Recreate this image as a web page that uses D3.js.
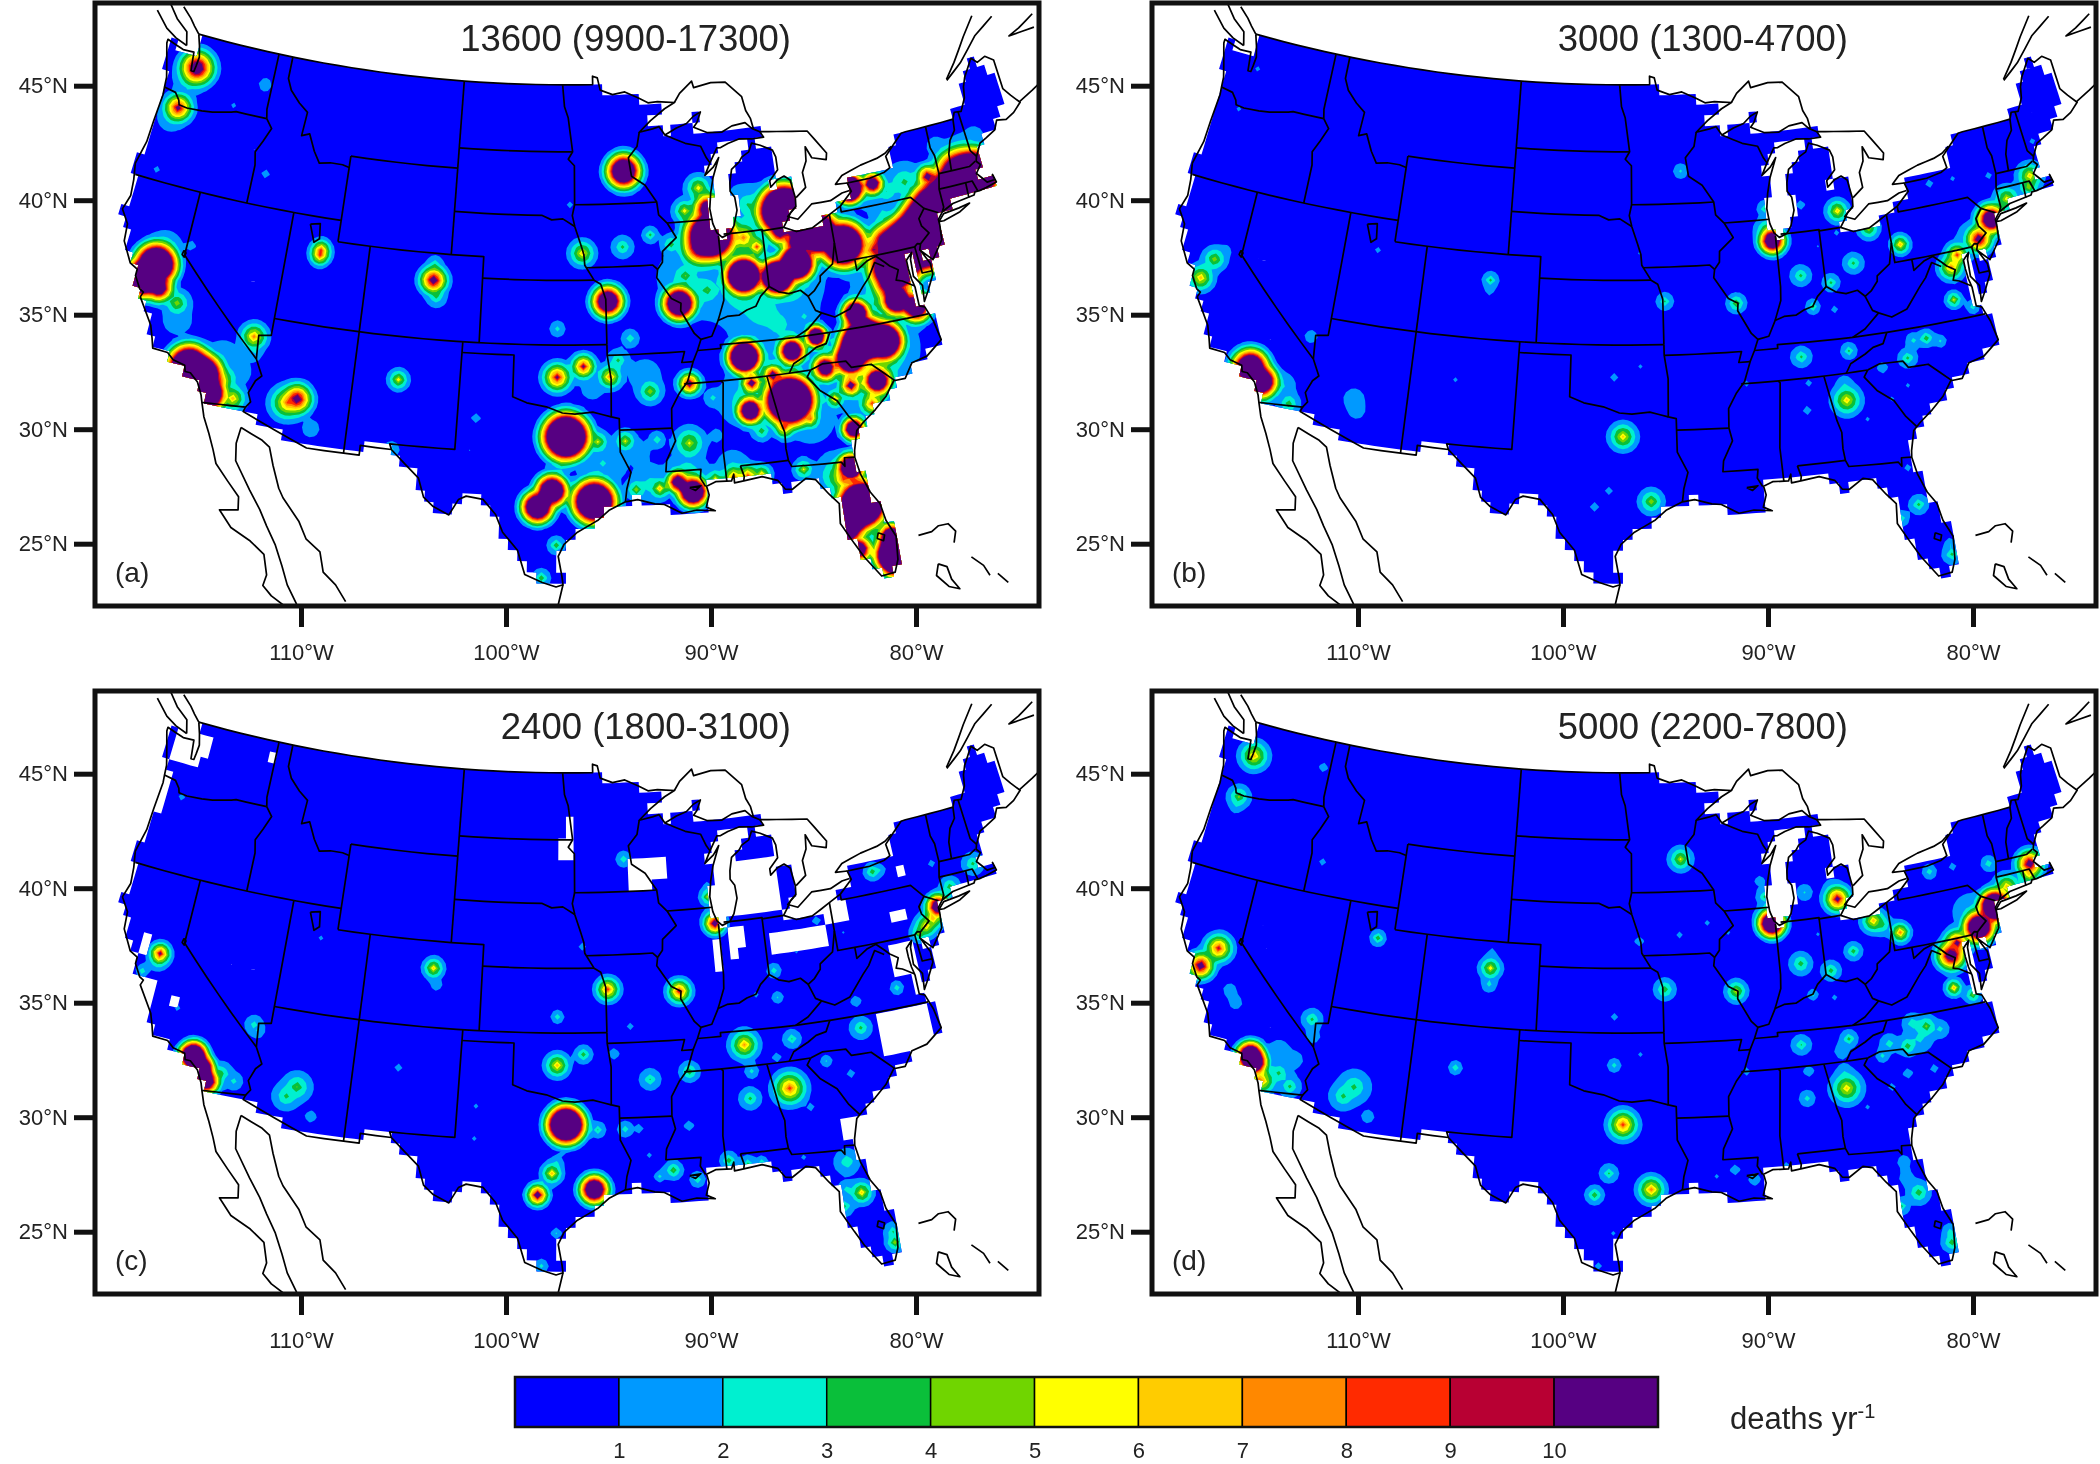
<!DOCTYPE html>
<html>
<head>
<meta charset="utf-8">
<script src="https://cdn.jsdelivr.net/npm/d3@7"></script>
<style>
  html, body { margin: 0; background: #fff; }
  svg { filter: blur(0.5px); }
  text { font-family: "Liberation Sans", Arial, sans-serif; fill: #222; }
</style>
</head>
<body>
<svg id="chart" width="2100" height="1464"></svg>
<script>
// colour levels of the field and legend
const levels = [1, 2, 3, 4, 5, 6, 7, 8, 9, 10];
const levelColors = ["#0000ff", "#0099ff", "#00f0d0", "#0abf3a", "#70d500", "#ffff00", "#ffcc00", "#ff8800", "#ff2a00", "#b80033", "#560082"];
const lonTicks = [-110, -100, -90, -80];
const latTicks = [45, 40, 35, 30, 25];
const panelTitles = ["13600 (9900-17300)", "3000 (1300-4700)", "2400 (1800-3100)", "5000 (2200-7800)"];
const panelLetters = ["(a)", "(b)", "(c)", "(d)"];

// hot spots: lon, lat, peak (deaths/yr), radius (deg)
const spotsA = [
  [-122.3,47.4,16,.36],[-122.5,47.0,4,.45],[-122.7,45.5,12,.3],[-122.9,44.9,2.5,.5],[-117.4,47.6,2,.25],[-119.2,46.2,1.4,.15],[-116.3,43.6,1.6,.22],[-122.9,42.4,1.5,.18],
  [-111.9,40.6,9,.2],[-111.95,40.2,9,.2],[-104.9,39.7,14,.28],[-104.8,38.9,3.5,.28],[-105,40.5,3,.22],
  [-121.5,38.2,40,.4],[-122,37.6,40,.36],[-121.1,37.3,20,.28],[-121.2,38.9,4,.5],[-119.8,39.5,1.8,.2],[-119.8,36.7,5,.33],[-119.5,36,1.8,.8],
  [-118.2,34,40,.42],[-117.5,33.8,40,.42],[-117.1,33,40,.36],[-116.3,33.7,6,.35],[-115.6,33,7,.3],[-116.5,34.8,1.9,.9],[-115.5,34.3,1.8,.7],
  [-115.1,36.1,8,.3],[-114.8,35.3,2,.3],[-112.1,33.4,14,.32],[-112.6,33.3,8,.4],[-111,32.3,1.9,.4],[-106.6,35.1,6,.22],[-106.4,31.85,2.5,.25],
  [-101.9,33.6,1.8,.2],[-102.2,32,1.1,.1],[-97.5,35.4,11,.3],[-95.95,36.1,11,.25],[-97,32.8,45,.45],[-97.75,30.3,30,.3],[-97.2,31.4,3,.3],[-98.5,29.45,30,.3],[-95.4,29.8,40,.42],[-97.5,27.8,4,.2],[-98.2,26.25,4,.2],
  [-94.6,39.1,25,.3],[-97.4,37.7,2.5,.25],[-96,41.2,6.5,.3],[-96.7,43.6,1.5,.17],[-93.3,45,28,.33],[-93,44.8,2,.6],[-93.6,41.6,3.5,.3],[-91.7,42,3.5,.2],[-90.6,41.5,4,.25],[-90.3,38.7,30,.32],[-93.3,37.2,3,.25],
  [-88.4,44.1,6,.3],[-88,43,20,.3],[-89.4,43.1,6,.25],[-88,41.8,40,.5],[-88.7,41.3,15,.4],[-86,41.5,8,.4],[-83.3,42.4,50,.5],[-85.6,43,3,.5],[-84.5,42.6,6,.4],
  [-81.6,41.2,40,.45],[-82.8,41,20,.3],[-80,40.4,40,.45],[-86.2,39.8,40,.36],[-84.3,39.6,40,.34],[-83,40.1,40,.34],[-85.2,41,9,.2],[-83.7,41.6,15,.25],
  [-89,42.8,1.9,.8],[-90,40,2.2,1.1],[-88.8,39.2,2.8,1],[-89.7,40,4.2,.3],[-88.5,39.2,4,.2],[-86.5,39,3,1.2],[-85.5,38,2.6,1.3],[-84.5,37.3,2.4,1],[-83.5,39,3,1.1],[-82.5,40.5,3,1],[-85,42.7,3,.8],[-84,43,2,.6],[-85.9,43.5,1.5,.6],
  [-79.5,40,4,.7],[-75.5,42.7,3.5,.6],[-76.8,42.6,3,.5],[-78,42.5,2.5,.5],[-77.2,41.4,2.5,.5],[-73,44,1.8,.5],[-71.5,43.3,5,.5],[-70.5,44,1.8,.5],
  [-78.9,42.9,40,.26],[-77.6,43.1,20,.2],[-73.9,42.8,14,.22],
  [-71.2,42.3,50,.5],[-71.9,42.4,30,.5],[-72.7,41.7,45,.5],[-73.8,41,60,.6],[-74.5,40.5,60,.6],[-75.3,40,60,.6],[-76,40,50,.5],[-76.7,39.9,30,.5],[-77.5,40.2,15,.4],[-78.2,40,10,.35],
  [-77.2,38.9,40,.5],[-76.7,39.3,40,.45],[-77.8,38.3,18,.35],[-77.5,37.5,30,.3],[-76.4,36.9,25,.3],[-78.5,37.5,3.5,1],[-77.5,38,5,.6],[-83,37.5,2.2,.6],
  [-86,35.8,2.5,1.2],[-80,34.5,4,1.2],[-79,35.5,5,1],[-87,34,3,.9],[-83.5,32.8,2,1.2],[-88,31,2.2,.7],[-90.5,30.7,3.5,.7],[-92.5,30.5,2.5,.7],[-82.5,30,4.5,.6],[-81.5,27.3,3,.9],[-93,32,1.5,.8],[-95,31.5,2.2,1],[-92.5,35.5,1.7,1],[-95.5,35,1.5,.9],
  [-86.8,36.1,40,.3],[-84,36,25,.26],[-85.3,35.05,15,.2],[-90,35.1,13,.22],[-86.6,34.7,14,.2],[-86.8,33.5,25,.25],[-84.4,33.75,50,.48],[-82.3,34.9,20,.26],[-80.85,35.2,35,.33],[-79.8,36.05,50,.42],[-78.7,35.8,40,.38],[-80.3,35.7,40,.36],[-79.9,37.2,30,.25],[-81,34,14,.22],[-79.5,34,25,.28],[-82,33.5,7,.2],[-80.1,32.9,9,.28],[-81.2,32.1,25,.2],[-82.4,36.5,28,.18],
  [-90.3,30.1,30,.28],[-91.1,30.4,20,.2],[-92,30.2,7,.2],[-93.2,30.2,5,.22],[-89,30.45,6,.2],[-88,30.6,9,.25],[-87.2,30.5,9,.25],[-86.5,30.5,7,.2],[-84.3,30.5,5.5,.22],[-90.2,32.3,5.5,.4],[-93.8,32.5,5.5,.25],[-95.3,32.4,5.5,.25],[-92.1,32.5,3,.22],[-92.3,34.7,5,.3],[-94.4,35.4,8,.25],[-94.1,36.2,3.5,.3],
  [-86.3,32.4,4,.25],[-85,32.5,9,.2],[-83.6,32.8,8,.18],[-88.7,34.2,2.5,.3],[-88.7,32.4,2,.25],
  [-81.7,30.3,30,.25],[-82.3,29.7,8,.3],[-81.5,28.5,50,.45],[-82.3,28,40,.38],[-82.5,27.4,30,.3],[-80.25,26.1,45,.36],[-80.3,25.8,40,.3],[-80.2,26.7,30,.25],[-82,26.6,20,.25]
];
const spotsB = [
  [-118.1,34,30,.36],[-117.3,33.6,28,.32],[-117,33,5,.3],[-116.2,33.4,2.2,.45],[-115.6,32.85,4,.28],[-116,33.6,1.9,.6],
  [-122,37.5,7,.3],[-121.4,38.4,5,.3],[-120.9,38.9,1.7,.3],[-115.1,36.1,1.8,.3],[-112.1,33.4,1.9,.5],[-111.7,33.1,1.8,.4],[-122.6,45.5,1.4,.13],[-122.1,47.6,1.4,.15],[-111.9,40.6,1.4,.2],
  [-104.9,39.7,3.5,.2],[-104.95,39.2,1.7,.2],[-106.6,35.1,1.4,.12],[-94.6,39.1,3.3,.22],[-90.3,38.7,4.5,.22],[-96,41.2,1.2,.1],[-93.3,45,2.3,.25],[-95.95,36.1,1.4,.1],[-97.5,35.4,1.7,.18],[-97,32.8,6.5,.32],[-97.75,30.3,1.6,.2],[-98.5,29.45,1.7,.22],[-95.4,29.8,5,.3],
  [-87.8,41.6,22,.25],[-88,41.9,5,.3],[-88,43,3.3,.2],[-85.7,42.9,1.6,.25],[-83.4,42.4,6.5,.25],[-81.8,41.4,5.5,.25],[-80,40.5,7,.2],[-83.8,41.6,1.5,.12],[-85.1,41.1,1.2,.08],[-83,40,3.5,.28],[-86.2,39.8,3.5,.28],[-84.5,39.2,3.5,.22],[-85.7,38.2,3.6,.16],[-84.5,38,1.8,.12],
  [-86.8,36.1,3.4,.28],[-84,36,3.4,.2],[-90,35.1,1.5,.14],[-86.6,34.7,1.7,.12],[-86.8,33.5,1.8,.18],[-84.4,33.8,6.5,.35],[-84.6,34.4,2,.35],[-80.85,35.2,3.5,.25],[-79.5,36.1,4,.2],[-78.7,35.8,2.3,.2],[-80.2,36.1,2.5,.25],[-82.3,34.9,2,.2],[-81,34,1.4,.1],[-82,33.5,1.4,.12],[-83.6,32.8,1.4,.1],
  [-77.5,37.5,5.5,.17],[-76.4,36.9,2.8,.18],[-77.2,38.9,8,.28],[-76.7,39.4,9,.25],[-75.2,39.9,14,.27],[-74.2,40.7,22,.28],[-73,41.6,6,.3],[-71.2,42.3,6.5,.3],[-71.5,41.8,5,.25],[-73.8,42.7,1.5,.2],[-76.1,43,1.4,.14],[-77.6,43.1,1.8,.15],[-70.4,43.7,1.4,.2],[-75.8,40.2,2,.6],
  [-82.4,27.9,3,.2],[-81.4,28.5,3.5,.25],[-81.7,30.2,1.5,.2],[-80.3,26,3.5,.25],[-80.2,26.6,2,.2]
];
const spotsC = [
  [-121.3,38.3,11,.2],[-121.2,38,5,.25],[-121.9,37.2,3,.15],[-119.6,35.9,1.4,.2],[-122.5,45.4,1.6,.15],[-115.1,36.1,2.6,.3],[-114.8,35.7,2,.3],
  [-118.1,34,35,.25],[-117.6,33.6,35,.25],[-117.1,33,22,.25],[-116.2,33.6,3.5,.3],[-115.5,33.3,2.5,.3],[-112.1,33.4,4.2,.4],[-112.4,33,3.5,.4],[-111,32.3,1.6,.35],[-111.9,40.5,1.4,.13],
  [-104.9,39.7,6.5,.22],[-104.8,39,2,.22],[-106.6,35.1,1.7,.17],[-96,41.1,1.6,.18],[-93.3,44.9,3,.2],[-94.6,39.1,9,.25],[-90.3,38.7,10,.25],[-97.4,37.7,2.8,.17],[-95.9,36.1,3.8,.22],[-97.5,35.4,7,.27],[-94.3,36,1.8,.25],[-93.3,37.2,1.5,.2],[-92.3,34.7,3.2,.3],[-90,35.1,4,.25],
  [-86.8,36.1,7.5,.33],[-84,36,3.2,.25],[-85,35.2,1.8,.2],[-86.6,34.7,2.5,.22],[-86.8,33.5,3.5,.3],[-84.4,33.8,9,.38],[-83.6,32.8,1.6,.2],[-81,34,1.7,.2],[-82.3,34.8,2.2,.2],[-80,36.1,3.5,.3],[-80,37.2,1.8,.25],[-77.5,37.5,2.8,.18],[-84.5,38.1,2.2,.2],[-85.7,38.2,1.5,.13],[-84.4,39.2,2.8,.2],[-83,39.9,1.4,.1],
  [-87.7,41.7,14,.2],[-88,42,3,.25],[-87.9,43,5.5,.17],[-88.1,43.6,1.5,.25],[-81.6,41.2,1.7,.2],[-80,40.5,1.2,.12],[-77.6,43.1,4,.2],[-76.9,43,2,.2],[-73.8,42.7,1.5,.22],[-74.1,40.8,20,.22],[-74.5,40.3,7,.25],[-74.9,40,7,.25],[-75.4,39.8,5,.2],[-73,41.6,4,.25],[-71.3,42.3,3.5,.3],
  [-97,32.8,40,.36],[-95.3,32.4,3.2,.2],[-93.8,32.5,2.8,.22],[-92.9,32.5,2,.15],[-90.2,32.4,1.6,.3],[-97.75,30.4,7,.22],[-97.5,31,2.2,.25],[-98.5,29.45,14,.2],[-95.4,29.85,25,.27],[-97.4,27.8,2.2,.17],[-98.2,26.3,2.5,.2],[-102,32,1.4,.12],[-101.9,33.6,1.4,.13],
  [-91.2,30.4,4.2,.22],[-92.5,31.2,1.4,.15],[-92,30.2,2.5,.15],[-90.1,30.1,3,.2],[-88.2,30.7,4,.2],[-87.3,30.5,3.5,.2],[-86.5,30.5,3,.15],[-84.3,30.5,1.4,.15],[-81.4,28.5,6.5,.25],[-81.9,30.1,3,.4],[-82.4,27.9,3.5,.25],[-82.2,28.8,2.5,.3],[-80.3,26,5,.2],[-80.2,26.6,3.2,.25]
];
const spotsD = [
  [-122.2,47.5,7,.33],[-122.6,45.5,4.5,.28],[-122.6,45,1.8,.25],[-117.4,47.7,1.8,.18],[-116.3,43.6,1.6,.17],[-111.9,40.6,4,.17],[-121.3,38.4,10,.3],[-122,37.6,14,.27],[-120,36.8,1.7,.35],[-119.5,36.3,1.6,.4],
  [-118.1,34.1,30,.25],[-117.7,33.8,28,.25],[-117.2,33.1,8,.3],[-116.9,33,6.5,.3],[-116.2,33.6,3.5,.35],[-115.5,33,3.5,.3],[-116.5,34.6,1.8,.6],[-115.5,34.2,1.6,.5],[-115.1,36.2,3.5,.28],[-114.8,35.6,1.9,.3],[-112.1,33.4,3.5,.5],[-112.4,33,3.5,.4],[-111,32.3,1.7,.35],
  [-104.9,39.7,6,.25],[-104.9,39,2.5,.25],[-105,40.5,1.6,.2],[-106.6,35.1,3,.17],[-96,41.2,1.8,.2],[-93.3,45,5.5,.27],[-93.6,41.6,1.5,.17],[-91.7,42,1.4,.17],[-90.6,41.5,1.4,.12],[-94.6,39.1,4,.27],[-90.3,38.7,5.5,.25],[-97.4,37.7,1.7,.15],[-95.95,36.1,1.4,.12],[-97.5,35.4,2.6,.2],[-97,32.8,9,.33],[-97.75,30.4,3.3,.25],[-98.5,29.45,4,.22],[-95.4,29.85,8,.3],[-97.4,27.8,1.4,.1],[-98.2,26.3,1.5,.2],
  [-87.8,41.7,28,.25],[-88,41.9,5,.3],[-88,43,3.6,.22],[-88.3,43.8,1.6,.3],[-85.6,42.9,2.2,.3],[-83.4,42.4,12,.27],[-83.8,43,2,.4],[-81.6,41.3,7,.27],[-80.9,41,3.5,.3],[-80,40.5,8,.2],[-83,40,3.8,.22],[-86.2,39.8,3.8,.3],[-85.1,41.1,1.3,.12],[-84.5,39.2,3.8,.25],[-85.7,38.2,2.5,.15],[-84.5,38,1.6,.1],
  [-86.8,36.1,3.2,.28],[-84,36,3.6,.22],[-84.6,35.6,2,.3],[-80.85,35.2,4,.25],[-81.8,35.6,2.8,.3],[-79.5,36.1,4.5,.27],[-80.3,36.2,3,.3],[-78.7,35.8,2.5,.3],[-80,35.5,2.5,.5],[-90,35.1,1.8,.15],[-86.6,34.7,2,.2],[-86.8,33.5,2.6,.25],[-84.4,33.8,6.5,.38],[-84.6,34.4,2,.35],[-83.6,32.8,1.4,.12],[-82,33.5,1.6,.18],[-81,34,1.9,.2],[-82.3,34.9,2.5,.2],[-79.5,34,1.7,.2],
  [-77.5,37.5,7,.17],[-76.5,36.9,4.5,.2],[-77.2,38.9,16,.3],[-76.7,39.4,12,.28],[-75.2,39.9,28,.3],[-74.1,40.8,35,.3],[-73,41.6,7,.3],[-71.2,42.3,14,.27],[-71.5,41.8,6,.25],[-73.8,42.7,3,.2],[-76.1,43,1.6,.2],[-77.6,43.1,2.8,.2],[-75.5,40.7,2.5,.7],
  [-81.9,30.1,1.7,.35],[-81.4,28.5,4,.3],[-81.9,29.2,1.7,.4],[-82.4,27.9,3.5,.2],[-80.3,26,4,.25],[-80.2,26.6,2.5,.25],[-91.1,30.4,1.6,.3],[-90.1,30.1,1.9,.25],[-92,30.2,1.4,.1],[-88.2,30.6,1.7,.15]
];
// no-data patches (white cells): lon0, lat0, lon1, lat1
const gapsA = [], gapsB = [], gapsD = [];
const gapsC = [
  [-124,47.2,-122.2,47.8],[-122.4,47.7,-121.5,48.6],[-117.3,47.9,-116.8,48.5],[-124.6,44.5,-123.7,46.5],[-124.6,42.8,-123.9,44.5],
  [-122.6,38.1,-121.9,39],[-122.3,36.2,-121.1,37],[-120.2,36.1,-119.6,36.6],[-97,46.2,-96.4,47],[-97.5,45,-96.3,46],[-93.2,44.2,-90.6,44.9],[-92.8,43.7,-91.5,44.2],
  [-86.6,42.7,-83.4,44.3],[-86.6,41.9,-83.6,42.5],[-87.8,39.4,-87.3,40.9],[-87.2,40.7,-85.8,41.5],[-87.2,40.2,-86.7,40.7],[-84.5,39.9,-80.8,40.9],[-80.9,41,-79.3,42],
  [-77,40.5,-75.9,41.2],[-76,42.5,-75.3,43.1],[-77.4,38,-75.8,39.4],[-78.8,34.6,-76.2,36.3],[-81.9,31.2,-81,31.9]
];
const spots = [spotsA, spotsB, spotsC, spotsD];
const gaps = [gapsA, gapsB, gapsC, gapsD];

// outline of the lower 48, lon/lat
const usRing = [
  [-122.76,49],[-95.15,49],[-95.15,49.38],[-94.82,49.3],[-94.64,48.74],[-93.8,48.52],[-92.95,48.62],[-92,48.3],[-91.4,48.07],[-90.75,48.1],[-89.6,48],
  [-90.3,47.75],[-91.3,47.25],[-92.1,46.75],[-91.2,46.87],[-90.75,46.95],[-90.4,46.55],[-89.6,46.83],[-88.9,47],[-88.4,47.3],[-87.9,47.47],[-88.2,47],[-88.45,46.8],[-87.6,46.5],[-86.6,46.45],[-85.9,46.68],[-85,46.75],[-84.6,46.45],[-84.1,46.25],[-83.9,45.98],[-84.7,45.97],
  [-85.5,46.05],[-86.3,45.9],[-86.8,45.75],[-87.05,45.75],[-87.6,45.1],[-88,44.55],[-87.4,44.9],[-87,45.3],[-87.5,44.4],[-87.75,43.7],[-87.9,43],[-87.8,42.3],[-87.6,41.85],[-87.3,41.62],[-86.8,41.76],[-86.5,42.1],[-86.2,42.8],[-86.25,43.4],[-86.5,43.7],[-86.45,44.1],[-86.25,44.7],[-85.7,45],[-85.5,45.2],[-85,45.4],[-84.75,45.78],
  [-84.2,45.63],[-83.45,45.33],[-83.3,45],[-83.3,44.4],[-83.9,43.95],[-83.9,43.65],[-83.4,43.95],[-82.95,44.07],[-82.6,43.85],[-82.45,43],[-82.5,42.6],[-82.9,42.35],[-83.15,42.05],[-83.45,41.73],
  [-82.7,41.45],[-81.7,41.5],[-80.5,41.98],[-79.75,42.27],[-78.9,42.85],[-79.05,43.26],[-77.6,43.27],[-76.6,43.4],[-76.2,43.55],[-76.3,44.1],[-75.8,44.45],[-75,44.98],[-74.7,45],[-71.5,45.01],[-71.3,45.3],[-70.85,45.25],[-70.4,45.8],[-70.25,46.3],[-70,46.7],[-69.23,47.46],[-68.9,47.2],[-68.3,47.36],[-67.8,47.07],[-67.8,45.7],[-67.45,45.3],[-67,44.85],
  [-67.6,44.5],[-68.2,44.3],[-68.8,44.4],[-69.1,44],[-69.8,43.75],[-70.25,43.6],[-70.7,43.05],[-70.8,42.85],[-70.6,42.65],[-71,42.3],[-70.65,41.95],[-70.5,41.78],[-70,41.8],[-70.05,42.05],[-69.95,41.67],[-70.65,41.55],[-71.1,41.5],[-71.4,41.5],[-71.5,41.37],[-72.9,41.25],[-73.65,41],[-74,40.7],[-74,40.45],[-74.1,39.75],[-74.9,38.95],[-75.5,39.5],[-75.1,38.8],[-75.1,38.3],[-75.6,37.6],[-75.95,37.15],
  [-75.85,37.9],[-76.25,38.4],[-76.2,39.2],[-76.05,39.5],[-76.45,39.2],[-76.45,38.8],[-76.4,38.3],[-76.3,37.9],[-76.3,37],[-76,36.9],[-75.7,36.2],[-75.5,35.25],[-76.5,34.65],[-77.4,34.5],[-77.95,33.85],[-78.6,33.85],[-79.2,33.2],[-79.9,32.7],[-80.7,32.2],[-81.1,31.9],[-81.4,31],[-81.45,30.7],[-81.3,29.9],[-80.95,29],[-80.55,28.4],[-80.4,27.6],[-80.03,26.8],[-80.15,25.75],[-80.4,25.2],[-81.1,25.13],[-81.8,26.1],[-82.2,26.8],[-82.75,27.8],[-82.65,28.7],[-83.1,29.2],[-83.7,29.95],[-84.2,30.07],[-85,29.65],[-85.35,29.7],[-85.7,30.15],[-86.5,30.4],[-87.5,30.3],[-88,30.25],[-88,30.65],[-88.15,30.35],[-89,30.38],[-89.5,30.2],[-89.4,29.8],[-89.6,29.25],[-89.15,29.05],[-90.1,29.15],[-90.9,29.05],[-91.8,29.5],[-92.3,29.55],[-93.2,29.78],[-93.85,29.7],[-94.7,29.35],[-95.3,28.9],[-96.4,28.35],[-97.1,27.8],[-97.4,27.25],[-97.2,26.3],[-97.15,25.95],
  [-97.5,25.85],[-98.2,26.05],[-99.1,26.4],[-99.5,27.5],[-100.3,28.3],[-100.7,29.1],[-101.4,29.77],[-102.3,29.88],[-102.7,29.7],[-103.15,28.97],[-104,29.3],[-104.55,29.7],[-104.9,30.55],[-106.5,31.75],[-108.2,31.78],[-108.2,31.33],[-111.07,31.33],[-114.8,32.5],[-114.72,32.72],[-117.12,32.53],
  [-117.25,32.85],[-117.6,33.4],[-118.1,33.75],[-118.4,33.75],[-118.5,34.03],[-119.2,34.15],[-119.6,34.42],[-120.47,34.45],[-120.65,34.9],[-120.9,35.45],[-121.9,36.6],[-121.8,36.85],[-122.05,36.95],[-122.5,37.5],[-122.5,37.8],[-123,38],[-123.7,38.9],[-123.8,39.7],[-124.35,40.3],[-124.1,41],[-124.2,41.75],[-124.4,42.5],[-124.1,43.6],[-124.05,44.6],[-123.95,45.9],[-124,46.25],[-124.05,46.7],[-124.3,47.3],[-124.7,48.2],[-124.7,48.38],[-123.5,48.13],[-122.75,48.15],[-122.6,47.3],[-122.4,47.3],[-122.35,47.6],[-122.3,48],[-122.5,48.5],[-122.76,49]
];
// part of north-east Maine the model grid leaves empty
const maskCut = [[-69.2,47.8],[-68.7,46.8],[-68,46],[-67.8,45.2],[-68.5,44.5],[-66,44],[-66,48]];

const stateLines = [
  [[-124,46.25],[-123.2,46.15],[-122.85,45.85],[-122.75,45.65],[-122.2,45.6],[-121.2,45.65],[-120.5,45.72],[-119.3,45.93],[-119,46],[-116.92,46]],
  [[-117.03,49],[-117.04,46.42],[-116.92,46]],
  [[-116.92,46],[-116.47,45.6],[-116.85,44.95],[-117.2,44.4],[-117.03,43.8],[-117.03,42]],
  [[-116.05,49],[-116.05,48],[-115.7,47.5],[-115,47],[-114.35,46.65],[-114.45,45.55],[-113.95,45.7],[-113.45,44.95],[-113,44.45],[-112.3,44.55],[-111.5,44.55],[-111.05,44.47]],
  [[-111.05,45],[-104.05,45]],[[-111.05,45],[-111.05,41]],
  [[-104.05,49],[-104.05,41]],
  [[-124.2,42],[-111.05,42]],
  [[-120,42],[-120,39],[-114.63,35],[-114.15,34.27],[-114.45,34],[-114.72,33.4],[-114.5,33],[-114.72,32.72]],
  [[-114.04,42],[-114.04,36.2],[-114.75,36.1],[-114.63,35]],
  [[-114.04,37],[-94.62,37]],
  [[-109.05,41],[-109.05,31.33]],
  [[-111.05,41],[-102.05,41],[-102.05,37]],
  [[-104.05,43],[-98.5,43],[-97.9,42.8],[-97.2,42.85],[-96.45,42.5]],
  [[-102.05,40],[-95.3,40]],
  [[-103,37],[-103.06,32],[-106.62,32],[-106.5,31.75]],
  [[-103,36.5],[-100,36.5],[-100,34.56],[-99.2,34.3],[-98.1,34.13],[-97.2,33.85],[-96.5,33.8],[-95.5,33.88],[-94.48,33.64]],
  [[-94.62,37],[-94.62,36.5],[-94.43,35.4],[-94.48,33.64],[-94.04,33.55],[-94.04,32],[-93.5,31.05],[-93.75,30.3],[-93.85,29.7]],
  [[-94.04,33.02],[-91.15,33]],
  [[-104.05,45.94],[-96.56,45.94]],
  [[-97.23,49],[-97.1,48],[-96.85,47.5],[-96.56,45.94],[-96.85,45.6],[-96.45,45.3],[-96.45,43.5],[-91.22,43.5]],
  [[-96.45,43.5],[-96.6,43],[-96.45,42.5],[-96.1,41.7],[-95.9,41.2],[-95.85,40.7],[-95.3,40],[-94.9,39.8],[-94.62,39.1],[-94.62,37]],
  [[-95.77,40.58],[-91.7,40.6],[-91.42,40.38]],
  [[-92.1,46.75],[-92.3,46.1],[-92.9,45.6],[-92.75,44.75],[-91.9,44.3],[-91.22,43.5],[-91.15,42.9],[-90.65,42.5],[-90.15,41.8],[-91.05,41.2],[-91.1,40.7],[-91.42,40.38],[-91.5,40],[-90.7,39],[-90.15,38.75],[-90.2,38.4],[-89.5,37.3],[-89.15,37],[-89.4,36.5],[-89.7,36],[-90.1,35.1],[-90.6,34.6],[-91.1,33.9],[-91.15,33],[-91,32.4],[-91.55,31.5],[-91.62,31],[-89.73,31],[-89.8,30.6],[-89.55,30.2]],
  [[-94.62,36.5],[-90.15,36.5],[-90.35,36],[-89.7,36]],
  [[-90.65,42.5],[-87.8,42.5]],
  [[-90.4,46.55],[-89.1,46.1],[-88.1,45.9],[-87.8,45.35],[-87.6,45.1]],
  [[-87.53,41.7],[-87.53,39.35],[-87.6,38.7],[-87.95,38],[-88.05,37.8]],
  [[-89.15,37],[-88.5,37.1],[-88.05,37.8],[-87.5,37.95],[-86.8,37.95],[-86.3,38.15],[-85.75,38.27],[-85.4,38.7],[-84.82,39.1],[-84.3,38.8],[-83.7,38.65],[-83,38.73],[-82.6,38.4],[-82.2,38.6],[-81.75,39],[-81.7,39.25],[-80.85,39.7],[-80.52,40.64]],
  [[-87.2,41.76],[-84.8,41.76],[-84.8,41.7],[-83.45,41.73]],[[-84.8,41.7],[-84.82,39.1]],
  [[-80.52,41.98],[-80.52,39.72],[-75.79,39.72],[-75.6,39.84],[-75.42,39.8]],
  [[-79.76,42.27],[-79.76,42],[-75.35,42],[-74.7,41.36],[-75.15,40.95],[-75.1,40.6],[-74.75,40.2],[-75.4,39.8],[-75.55,39.5]],
  [[-74.7,41.36],[-73.9,41]],
  [[-75.79,39.72],[-75.7,38.46],[-75.05,38.45]],
  [[-82.6,38.4],[-82.3,37.7],[-81.97,37.54],[-81.25,37.25],[-80.3,37.5],[-79.3,38.42],[-78.87,38.77],[-78.35,39.4],[-77.83,39.13]],
  [[-83.68,36.6],[-82.9,36.9],[-81.97,37.54]],
  [[-79.48,39.72],[-79.48,39.2],[-78.75,39.55],[-78.2,39.68],[-77.75,39.32],[-77.5,39.1],[-77.05,38.85],[-77.3,38.4],[-76.95,38.3],[-76.3,37.95]],
  [[-89.4,36.5],[-88.05,36.5],[-88.05,36.68],[-83.68,36.6],[-81.68,36.59],[-75.9,36.55]],
  [[-90.3,35],[-84.32,34.99],[-83.1,35]],
  [[-81.68,36.59],[-82,36.1],[-82.6,36],[-83.1,35.75],[-84,35.4],[-84.32,34.99]],
  [[-83.1,35],[-82.4,35.2],[-81.05,35.15],[-80.8,34.82],[-79.67,34.8],[-78.55,33.86]],
  [[-83.1,35],[-83.35,34.7],[-82.75,34],[-81.9,33.4],[-81.4,32.6],[-80.9,32.05]],
  [[-88.2,35],[-88.1,34.9],[-88.45,31.9],[-88.4,30.35]],
  [[-85.6,34.98],[-85.18,32.87],[-85,32.3],[-85.05,31.55],[-85,31],[-84.86,30.7],[-82.2,30.57],[-82.05,30.36],[-82,30.75],[-81.45,30.7]],
  [[-87.6,31],[-85,31]],[[-87.6,31],[-87.45,30.5],[-87.5,30.3]],
  [[-73.35,45.01],[-73.4,44],[-73.25,43.6],[-73.27,42.75],[-73.5,42.05],[-73.5,41.2],[-73.65,41]],
  [[-71.5,45.01],[-71.6,44.5],[-72.05,44.1],[-72.35,43.5],[-72.46,42.73]],
  [[-73.27,42.75],[-71.3,42.7],[-70.85,42.87]],
  [[-73.5,42.05],[-71.38,42.02],[-71.2,41.5]],[[-71.8,42.02],[-71.85,41.32]],
  [[-71.05,45.3],[-70.98,43.4],[-70.7,43.07]]
];
// lakes, islands and neighbours' coasts
const otherCoasts = [
  [[-74,40.6],[-73.7,40.58],[-72.6,40.8],[-71.9,41.07],[-72.6,40.98],[-73.6,40.9],[-74,40.6]],
  [[-89.6,48],[-89.2,48.4],[-88.3,48.9],[-88.2,48.6],[-87,48.75],[-86,48.7],[-85,47.95],[-84.85,47.3],[-84.6,46.9],[-84.5,46.45]],
  [[-84.1,46.25],[-83,46.15],[-82,46.05],[-81,45.95],[-80.6,45.5],[-80,44.8],[-80.1,44.5],[-81,44.7],[-81.3,45.25],[-81.4,44.6],[-81.75,44.1],[-81.7,43.4],[-82.4,43]],
  [[-82.5,42.6],[-83.1,42.2],[-82.5,42],[-81.5,42.6],[-80.3,42.6],[-79.5,42.85],[-79,42.9]],
  [[-79.05,43.26],[-79.8,43.3],[-79.3,43.65],[-78,43.95],[-76.9,44.1],[-76.3,44.25],[-75.8,44.5]],
  [[-71.2,46.8],[-70,47.4],[-68.5,48.4],[-67,49]],[[-71.2,46.85],[-70.4,47.5],[-69.3,48.5],[-68.3,49.3]],
  [[-67,44.9],[-66,45.2],[-64.8,45.6]],[[-64.5,47.9],[-66.3,47.9],[-65.5,48.1],[-64.3,48.5]],
  [[-117.12,32.53],[-116.85,31.9],[-116.4,31.2],[-116,30.5],[-115.7,29.9],[-114.9,29.2],[-114.2,28.6],[-114.1,28],[-115.05,27.85],[-114.3,27.15],[-113.2,26.7],[-112.4,26.2],[-112.1,25.3],[-112.2,24.8],[-111.7,24.4],[-110.9,24]],
  [[-114.75,31.75],[-114.85,31],[-114.7,30.2],[-113.7,29],[-113,28.2],[-112.5,27.5],[-111.9,26.7],[-111.4,25.8],[-111,25],[-110.4,24.2]],
  [[-114.75,31.75],[-113.5,31.35],[-113.05,31.1],[-112.7,30.3],[-112.2,29.3],[-111.9,28.9],[-110.9,27.95],[-110.4,27.2],[-109.6,26.7],[-109.3,25.8],[-108.6,25.3],[-108,24.6]],
  [[-97.15,25.95],[-97.4,25],[-97.7,24]],
  [[-78.9,26.65],[-78.2,26.7],[-77.8,26.9],[-77.3,26.9],[-77,26.5],[-77.2,26]],[[-76.5,25.2],[-76,24.7],[-75.8,24.2]],[[-75.4,24.2],[-75,23.7]],
  [[-78.2,25.2],[-77.8,25],[-77.7,24.4],[-77.4,23.9],[-77.9,24.1],[-78.4,24.7],[-78.2,25.2]],[[-75.4,22.2],[-74.4,21.3]],
  [[-112.9,41.6],[-112.3,41.7],[-112.2,41],[-112.5,40.8],[-112.9,41.6]],
  [[-80.9,27.1],[-80.6,26.95],[-80.7,26.7],[-81,26.85],[-80.9,27.1]],
  [[-90.4,30.2],[-89.8,30.25],[-90.1,30.05],[-90.4,30.2]],
  [[-120.1,39.2],[-119.95,39.1],[-120,38.9],[-120.15,39],[-120.1,39.2]],
  [[-123.35,48.35],[-124.2,48.55],[-125,48.85],[-126,49.5]],[[-123.35,48.35],[-123.6,48.95],[-124.5,49.4],[-125.3,50]],
  [[-122.76,49],[-123.2,49.3],[-123.6,49.6],[-124.3,50]]
];

const panelWidth = 944, panelHeight = 603;
const panelOrigins = [[95, 3], [1152, 3], [95, 691], [1152, 691]];

const svg = d3.select("#chart");

// Lambert projection, anchored on the southern tip of Texas
const projection = d3.geoConicConformal().parallels([30, 45]).rotate([97, 0]).scale(1245).translate([0, 0]);
const anchor = projection([-97.15, 25.85]);
projection.translate([468 - anchor[0], 584 - anchor[1]]);

const lineGen = d3.line();

// cut long segments so straight parallels bend with the projection
function densify(pts) {
  const out = [];
  pts.forEach((p, i) => {
    if (i > 0) {
      const q = pts[i - 1];
      const steps = Math.ceil(Math.abs(p[0] - q[0]));
      for (let s = 1; s < steps; s++) out.push([q[0] + (p[0] - q[0]) * s / steps, q[1] + (p[1] - q[1]) * s / steps]);
    }
    out.push(p);
  });
  return out;
}
const mapLine = pts => lineGen(densify(pts).map(d => projection(d)));

// model grid cells on land
const cellW = 0.5, cellH = 0.5;
const landCells = [];
for (let lon = -130; lon < -60; lon += cellW) {
  for (let lat = 20; lat < 52; lat += cellH) {
    const c = [lon + cellW / 2, lat + cellH / 2];
    if (d3.polygonContains(usRing, c) && !d3.polygonContains(maskCut, c)) landCells.push([lon, lat]);
  }
}
function maskPath(gapList) {
  let d = "";
  landCells.forEach(([lon, lat]) => {
    const cx = lon + cellW / 2, cy = lat + cellH / 2;
    if (gapList.some(g => cx >= g[0] && cx <= g[2] && cy >= g[1] && cy <= g[3])) return;
    d += lineGen([[lon, lat], [lon + cellW, lat], [lon + cellW, lat + cellH], [lon, lat + cellH]].map(p => projection(p))) + "Z";
  });
  return d;
}

// field on the coarse model grid; each hot spot falls off as a rounded cone
const gridStep = 0.25, gridLon0 = -127, gridLat0 = 23;
const gridW = 248, gridH = 112;
const power = 4;
function buildField(list) {
  const values = new Float64Array(gridW * gridH);
  list.forEach(([lon, lat, peak, r]) => {
    const kx = Math.cos(lat * Math.PI / 180);
    const reach = 3.6 * r + 0.35;
    const ci = Math.round((lon - gridLon0) / gridStep), cj = Math.round((lat - gridLat0) / gridStep);
    const di = Math.ceil(reach / kx / gridStep), dj = Math.ceil(reach / gridStep);
    for (let j = Math.max(0, cj - dj); j <= Math.min(gridH - 1, cj + dj); j++) {
      for (let i = Math.max(0, ci - di); i <= Math.min(gridW - 1, ci + di); i++) {
        const dx = (i - ci) * gridStep * kx, dy = (j - cj) * gridStep;
        const t = Math.max(0, 1 - Math.sqrt(dx * dx + dy * dy) / reach);
        values[i + j * gridW] += Math.pow(peak * Math.pow(t, 2.5), power);
      }
    }
  });
  return values.map(v => Math.pow(v, 1 / power));
}
const contourGen = d3.contours().size([gridW, gridH]).thresholds(levels);
const planarPath = d3.geoPath();
function toScreen(geom) {
  const coords = geom.coordinates.map(poly => poly.map(ring => ring.map(([x, y]) =>
    projection([gridLon0 + (x - 0.5) * gridStep, gridLat0 + (y - 0.5) * gridStep]))));
  return { type: "MultiPolygon", coordinates: coords };
}

panelOrigins.forEach((origin, n) => {
  const g = svg.append("g").attr("transform", `translate(${origin[0]},${origin[1]})`);
  const defs = g.append("defs");
  defs.append("clipPath").attr("id", "frame" + n).append("rect").attr("width", panelWidth).attr("height", panelHeight);
  const maskD = maskPath(gaps[n]);
  defs.append("clipPath").attr("id", "mask" + n).append("path").attr("d", maskD);

  g.append("path").attr("d", maskD).attr("fill", levelColors[0]);

  const field = g.append("g").attr("clip-path", `url(#mask${n})`);
  contourGen(buildField(spots[n])).forEach(c => {
    const level = levels.indexOf(c.value) + 1;
    field.append("path")
      .attr("d", planarPath(toScreen(c)))
      .attr("fill", levelColors[level])
      .attr("fill-rule", "evenodd");
  });

  const lines = g.append("g").attr("clip-path", `url(#frame${n})`)
    .attr("fill", "none").attr("stroke", "#000").attr("stroke-width", 1.7).attr("stroke-linejoin", "round");
  lines.append("path").attr("d", mapLine(usRing));
  stateLines.forEach(s => lines.append("path").attr("d", mapLine(s)));
  otherCoasts.forEach(s => lines.append("path").attr("d", mapLine(s)));

  g.append("rect").attr("width", panelWidth).attr("height", panelHeight)
    .attr("fill", "none").attr("stroke", "#111").attr("stroke-width", 5);

  // axes
  const x = d3.scaleLinear().domain([-110, -80]).range([206, 821]);
  const y = d3.scaleLinear().domain([45, 25]).range([82.7, 540.7]);
  const xAxis = g.append("g").attr("transform", `translate(0,${panelHeight})`)
    .call(d3.axisBottom(x).tickValues(lonTicks).tickSize(21).tickPadding(17).tickFormat(d => `${-d}°W`));
  const yAxis = g.append("g")
    .call(d3.axisLeft(y).tickValues(latTicks).tickSize(21).tickPadding(6).tickFormat(d => `${d}°N`));
  [xAxis, yAxis].forEach(a => {
    a.select(".domain").remove();
    a.selectAll("line").attr("stroke", "#111").attr("stroke-width", 5);
    a.selectAll("text").attr("font-size", 22).attr("font-family", null);
  });

  g.append("text").attr("x", 696).attr("y", 48).attr("text-anchor", "end").attr("font-size", 36.5).text(panelTitles[n]);
  g.append("text").attr("x", 20).attr("y", 579).attr("font-size", 28).text(panelLetters[n]);
});

// colour bar
const barX = d3.scaleLinear().domain([0, levelColors.length]).range([515, 1658]);
const barTop = 1377, barHeight = 50;
svg.append("g").selectAll("rect").data(levelColors).enter().append("rect")
  .attr("x", (d, i) => barX(i)).attr("y", barTop)
  .attr("width", barX(1) - barX(0)).attr("height", barHeight)
  .attr("fill", d => d).attr("stroke", "#000").attr("stroke-width", 1.5);
svg.append("rect").attr("x", 515).attr("y", barTop).attr("width", 1143).attr("height", barHeight)
  .attr("fill", "none").attr("stroke", "#111").attr("stroke-width", 2.5);
const barAxis = svg.append("g").attr("transform", `translate(0,${barTop + barHeight})`)
  .call(d3.axisBottom(barX).tickValues(levels).tickSize(0).tickPadding(15).tickFormat(d3.format("d")));
barAxis.select(".domain").remove();
barAxis.selectAll("text").attr("font-size", 22).attr("font-family", null);

const unit = svg.append("text").attr("x", 1730).attr("y", 1429).attr("font-size", 31);
unit.append("tspan").text("deaths yr");
unit.append("tspan").attr("dy", -11).attr("font-size", 20).text("-1");
</script>
</body>
</html>
